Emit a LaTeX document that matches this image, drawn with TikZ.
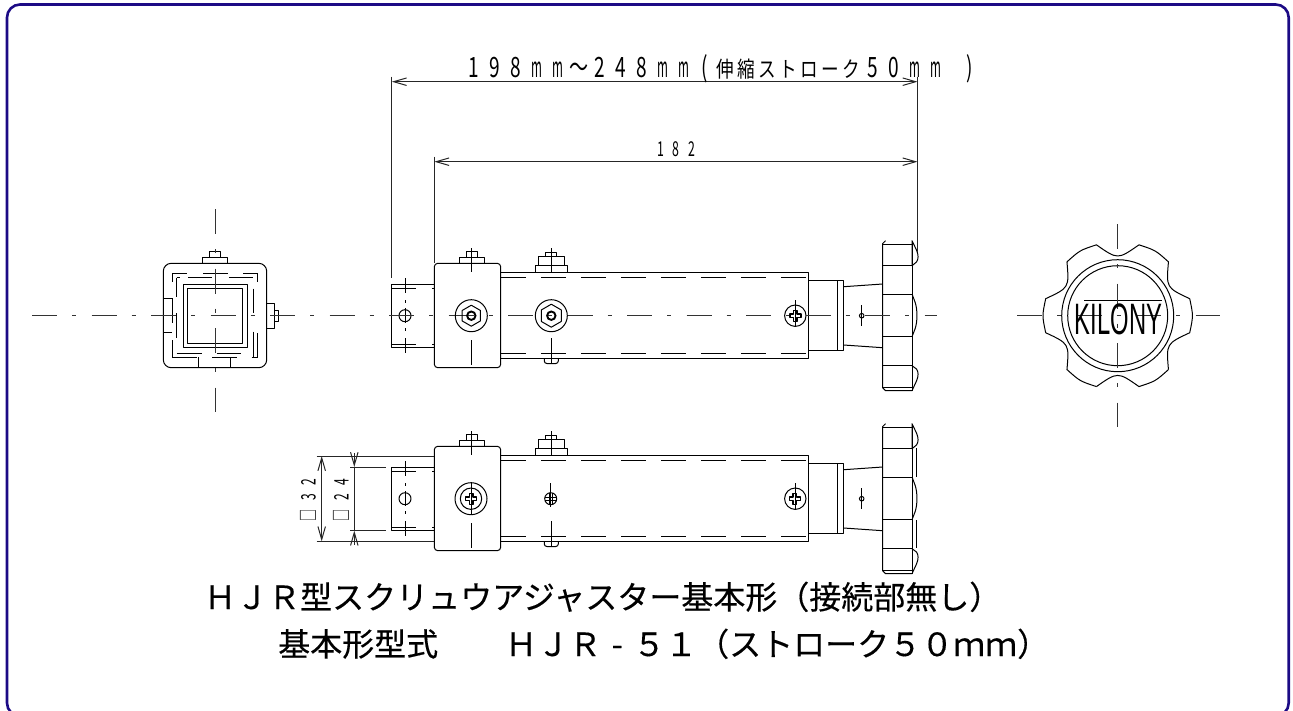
\documentclass[tikz,border=0pt]{standalone}
\usepackage{fontspec}
\usetikzlibrary{arrows.meta}
\newfontfamily\captionfont[FakeBold=0.35]{Noto Sans CJK JP}
\newfontfamily\dimfont[LetterSpace=42,FakeStretch=0.6]{Noto Sans CJK JP}
\newfontfamily\cellfont[FakeStretch=0.68]{Noto Sans CJK JP}
\newfontfamily\dimmfont[FakeStretch=0.42]{Noto Sans CJK JP}
\newfontfamily\kanafont[FakeStretch=0.8]{Noto Sans CJK JP}
\newcommand{\cellbox}[1]{\makebox[21pt]{#1}}
\newcommand{\widebox}[1]{\makebox[32pt]{#1}}
\definecolor{framenavy}{HTML}{1C0A85}
\tikzset{
    partline/.style={line width=1pt, black, line join=round},
    ringline/.style={line width=1.9pt, black},
    centerline/.style={line width=1pt, black!80, dash pattern=on 25pt off 15pt on 4pt off 15.5pt},
    dimline/.style={line width=1pt, black!85, >={Straight Barb[length=13pt,width=7.5pt]}},
    dimtext/.style={inner sep=0pt, anchor=base west},
    captiontext/.style={inner sep=0pt, anchor=base west, font=\captionfont\fontsize{32}{34}\selectfont}
}
\begin{document}
\begin{tikzpicture}[x=1pt, y=-1pt]
    \clip (0,0) rectangle (1293,710);

    % Outer frame
    \draw[framenavy, line width=2.6pt, rounded corners=13pt] (7,4.5) rectangle (1288.7,716);

    % Parts shared by side view and lower view
    \foreach \dy in {0,183} {
        \begin{scope}[shift={(0,\dy)}]
            % Tube and hidden lines
            \draw[partline] (500.7,272.7) -- (808.7,272.7) -- (808.7,358.3) -- (500.7,358.3);
            \draw[partline, dash pattern=on 25pt off 15pt] (501,277.4) -- (806,277.4);
            \draw[partline, dash pattern=on 25pt off 15pt] (501,353.6) -- (806,353.6);
            % Slider block
            \draw[partline, rounded corners=3.5pt] (434.3,263.3) rectangle (500.7,367.7);
            % Stub
            \draw[partline] (434.3,284) -- (391.7,284) -- (391.7,347.7) -- (434.3,347.7);
            \draw[partline] (391.7,288) -- (416,288) (432,288) -- (434.3,288);
            \draw[partline] (391.7,344) -- (416,344) (432,344) -- (434.3,344);
            \draw[partline] (405,315.7) circle[radius=6];
            \foreach \ya/\yb in {278/293, 300/303, 308/323, 328/331, 338/353}
                \draw[partline] (405,\ya) -- (405,\yb);
            % Bolt on slider
            \draw[partline] (459,263.3) -- (459,257) -- (484.3,257) -- (484.3,263.3);
            \draw[partline] (466,257) -- (466,251.7) -- (477.3,251.7) -- (477.3,257);
            \draw[partline] (471.3,248) -- (471.3,272);
            \draw[partline] (471.3,340) -- (471.3,365);
            % Bolt on tube
            \draw[partline] (535.3,272.7) -- (535.3,265.3) -- (567.7,265.3) -- (567.7,272.7);
            \draw[partline] (538.3,265.3) -- (538.3,256.7) -- (564.3,256.7) -- (564.3,265.3);
            \draw[partline] (545.7,256.7) -- (545.7,252.7) -- (556.7,252.7) -- (556.7,256.7);
            \draw[partline] (551.3,248.3) -- (551.3,272.7);
            \draw[partline] (551.3,338.3) -- (551.3,363);
            \draw[partline, rounded corners=2.5pt] (544.3,358.3) -- (544.3,363.5) -- (558.3,363.5) -- (558.3,358.3);
            % Small screw at tube end
            \draw[partline] (795.3,315.7) circle[radius=10.7];
            \draw[partline] (795.3,300) -- (795.3,326);
            % Neck and taper
            \draw[partline] (808.7,280.7) -- (843.7,280.7) -- (843.7,350.3) -- (808.7,350.3);
            \draw[partline] (837.7,280.7) -- (837.7,350.3);
            \draw[partline] (843.7,286.7) -- (882.7,284);
            \draw[partline] (843.7,345) -- (882.7,347.7);
            \draw[partline] (861.7,315.7) circle[radius=2.3];
            \draw[partline] (861.7,305) -- (861.7,326);
            % Knob
            \draw[partline] (885.5,240.7) -- (882.7,243.5) -- (882.7,387.8) -- (885.5,390.7)
                -- (912,390.7) -- (916.5,381) .. controls (918.6,376) and (918.6,372) .. (916.5,369) -- (912,365.7)
                (912,336.7) -- (915,329) .. controls (917.6,322) and (917.6,309) .. (915,302) -- (912,294)
                (912,265.7) -- (916.5,262) .. controls (918.6,259) and (918.6,255) .. (916.5,250) -- (912,240.7) -- cycle;
            \draw[partline] (912,240.7) -- (912,390.7);
            \foreach \yk in {244,265.7,294,336.7,365.7,387.3}
                \draw[partline] (882.7,\yk) -- (912,\yk);
        \end{scope}
    }

    % End view, square tube
    \draw[partline, rounded corners=8pt] (163.3,263.3) rectangle (266.7,367.7);
    \draw[partline] (183.3,284) rectangle (247.3,347.7);
    \draw[partline] (187.3,288) rectangle (242.7,343.7);
    \foreach \xa/\ya/\xb/\yb in {
        172.3/273.3/187.3/273.3, 203.3/273.3/227.7/273.3, 243.3/273.3/257.7/273.3,
        176.7/277.7/180/277.7, 188.3/277.7/212.3/277.7, 229/277.7/253/277.7,
        172.3/273.3/172.3/282.3, 172.3/298.3/172.3/323.3, 172.3/340/172.3/357.3,
        176.7/277.7/176.7/296.7, 176.7/313/176.7/338,
        172.3/357.3/196.7/357.3, 212.3/357.3/236.7/357.3, 251.7/357.3/257.7/357.3,
        176.7/353.3/201.7/353.3, 216.7/353.3/241/353.3,
        257.7/273.3/257.7/282.3, 257.7/333/257.7/357.3,
        253/288.7/253/313, 253/331.7/253/356.7,
        198.3/357.3/198.3/367.7, 230.7/357.3/230.7/367.7,
        163.3/298.3/172.3/298.3, 163.3/332/172.3/332}
        \draw[partline] (\xa,\ya) -- (\xb,\yb);
    \draw[partline] (202.3,263.3) -- (202.3,257) -- (227.7,257) -- (227.7,263.3);
    \draw[partline] (209.3,257) -- (209.3,251.7) -- (220.7,251.7) -- (220.7,257);
    \draw[partline] (266.7,303) -- (274,303) -- (274,328.3) -- (266.7,328.3);
    \draw[partline] (274,310) -- (278.7,310) -- (278.7,321.7) -- (274,321.7);
    \draw[centerline] (215,209) -- (215,412);

    % Long center line through side view
    \draw[centerline] (32,315.7) -- (937,315.7);

    % Hex socket screws in side view
    \foreach \cx/\hexr in {471.3/10.5, 551.3/11.5} {
        \draw[partline] (\cx,315.7) circle[radius=16];
        \draw[partline, shift={(\cx,315.7)}] (90:\hexr) -- (150:\hexr) -- (210:\hexr) -- (270:\hexr) -- (330:\hexr) -- (30:\hexr) -- cycle;
        \draw[ringline] (\cx,315.7) circle[radius=4.2];
    }

    % Cross recess screws
    \foreach \cx/\cy in {471/498.7, 795.3/315.7, 794.7/498.7}
        \draw[partline, line width=1.4pt, shift={(\cx,\cy)}] (-5.5,-1.8) -- (-1.8,-1.8) -- (-1.8,-5.5) -- (1.8,-5.5) -- (1.8,-1.8) -- (5.5,-1.8) -- (5.5,1.8) -- (1.8,1.8) -- (1.8,5.5) -- (-1.8,5.5) -- (-1.8,1.8) -- (-5.5,1.8) -- cycle;
    \draw[partline] (471,498.7) circle[radius=16];
    \draw[partline] (471,498.7) circle[radius=10.7];
    \draw[partline] (471,482) -- (471,515);
    \draw[partline] (550.7,498.7) circle[radius=6];
    \draw[partline, line width=1.4pt] (544.7,497.2) -- (556.7,497.2) (544.7,500.2) -- (556.7,500.2);
    \draw[partline, line width=1.4pt] (549.2,492.7) -- (549.2,504.7) (552.2,492.7) -- (552.2,504.7);
    \draw[partline] (550.7,483) -- (550.7,507);

    % Extra line on lower knob
    \draw[partline] (916.7,448.3) -- (916.7,477.3) (916.7,520) -- (916.7,548.3);

    % Knob face with lobes
    \begin{scope}[shift={(1117.7,315.7)}]
        \foreach \ang in {0,60,...,300} {
            \pgfmathsetmacro{\angA}{\ang-13.3}
            \pgfmathsetmacro{\angB}{\ang+13.3}
            \pgfmathsetmacro{\angC}{\ang+30}
            \pgfmathsetmacro{\angD}{\ang+46.7}
            \draw[partline] (\angA:74) .. controls (\ang:75.6) .. (\angB:74) .. controls (\angC:56) .. (\angD:74);
        }
        \draw[partline] (0,0) circle[radius=56];
        \draw[partline] (0,0) circle[radius=50];
        \draw[partline] (-33.7,-15.7) -- (44,-15.7);
    \end{scope}
    \draw[centerline] (1017,315.7) -- (1220,315.7);
    \draw[centerline] (1117.7,224) -- (1117.7,427);
    \node[inner sep=0pt] (knobname) at (1118.5,319.5) {\fontspec{Liberation Sans}\fontsize{44}{46}\selectfont\scalebox{0.54}[1]{KILONY}};

    % Dimension lines
    \coordinate (strokeL) at (391.8,81.7);
    \coordinate (strokeR) at (917.5,81.7);
    \coordinate (lenL) at (434.3,161.7);
    \coordinate (lenR) at (917.5,161.7);
    \draw[dimline] (391.8,76.7) -- (391.8,278);
    \draw[dimline] (434.3,156.7) -- (434.3,263.3);
    \draw[dimline] (917.5,76.7) -- (917.5,252);
    \draw[dimline,<->] (strokeL) -- (strokeR);
    \draw[dimline,<->] (lenL) -- (lenR);
    \node[dimtext] (strokelabel) at (463,77.3) {\fontsize{28}{30}%
        {\cellfont\foreach \ch in {1,9,8}{\cellbox{\ch}}}%
        {\dimmfont\foreach \ch in {m,m}{\cellbox{\ch}}}%
        {\cellfont\cellbox{～}\foreach \ch in {2,4,8}{\cellbox{\ch}}}%
        {\dimmfont\foreach \ch in {m,m}{\cellbox{\ch}}}%
        {\cellfont\cellbox{(}}%
        {\fontsize{22}{24}\kanafont\foreach \ch in {伸,縮,ス,ト,ロ,ー,ク}{\cellbox{\ch}}}%
        {\cellfont\foreach \ch in {5,0}{\cellbox{\ch}}}%
        {\dimmfont\foreach \ch in {m,m}{\cellbox{\ch}}}%
        {\cellfont\hspace{13pt}\cellbox{)}}};
    \node[dimtext] (lenlabel) at (657,156.7) {\fontsize{20.5}{22}\dimfont 182};

    % Lower view dimensions
    \coordinate (sqTop) at (321.7,456);
    \coordinate (sqBot) at (321.7,541.3);
    \coordinate (innTop) at (354.3,467);
    \coordinate (innBot) at (354.3,530.7);
    \coordinate (innTopOut) at (354.3,453);
    \coordinate (innBotOut) at (354.3,544.7);
    \draw[dimline] (316.7,456) -- (434.3,456) (316.7,541.3) -- (434.3,541.3);
    \draw[dimline] (350,467) -- (386,467) (350,530.7) -- (386,530.7);
    \draw[dimline,<->] (sqTop) -- (sqBot);
    \draw[dimline,->] (innTopOut) -- (innTop);
    \draw[dimline,->] (innBotOut) -- (innBot);
    \draw[dimline] (innTop) -- (innBot);
    \node[inner sep=0pt, rotate=90, anchor=base] (sqlabel) at (315.5,500) {\fontsize{20}{22}\dimfont □32};
    \node[inner sep=0pt, rotate=90, anchor=base] (innlabel) at (348.5,500) {\fontsize{20}{22}\dimfont □24};

    % Title lines
    \node[captiontext] (titleA) at (204,609) {ＨＪＲ型スクリュウアジャスター基本形（接続部無し）};
    \node[captiontext] (titleB) at (278,656) {基本形型式\hspace{67pt}ＨＪＲ\widebox{-}５１（ストローク５０ｍｍ）};
\end{tikzpicture}
\end{document}
